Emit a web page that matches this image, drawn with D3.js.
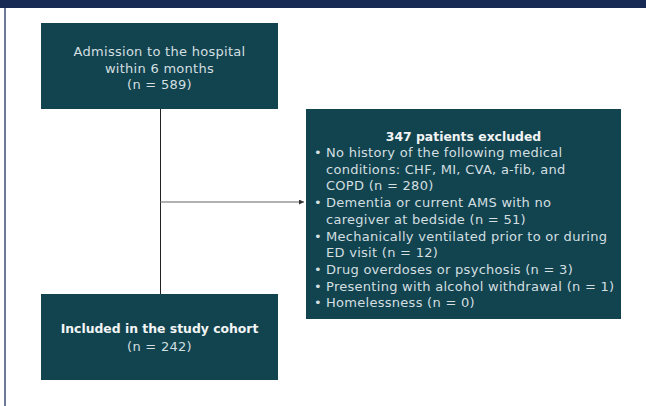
<!DOCTYPE html>
<html>
<head>
<meta charset="utf-8">
<script src="https://cdn.jsdelivr.net/npm/d3@7"></script>
<style>
  body { margin: 0; background: #fff; }
  svg { display: block; }
</style>
</head>
<body>
<svg width="646" height="406"></svg>
<script>
var svg = d3.select("svg"),
    width = 646,
    height = 406;

// ---- data ----
var topLines = ["Admission to the hospital", "within 6 months", "(n = 589)"];
var bottomTitle = "Included in the study cohort";
var bottomCount = "(n = 242)";
var excludedTitle = "347 patients excluded";
var excludedItems = [
    ["No history of the following medical", "conditions: CHF, MI, CVA, a-fib, and", "COPD (n = 280)"],
    ["Dementia or current AMS with no", "caregiver at bedside (n = 51)"],
    ["Mechanically ventilated prior to or during", "ED visit (n = 12)"],
    ["Drug overdoses or psychosis (n = 3)"],
    ["Presenting with alcohol withdrawal (n = 1)"],
    ["Homelessness (n = 0)"]
];

var boxFill = "#12444f",
    textFill = "#d3dfe0",
    font = "'DejaVu Sans', sans-serif",
    fontSize = 13,
    spacing = "0.28px";

// frame
svg.append("rect").attr("x", 0).attr("y", 0).attr("width", width).attr("height", 8).attr("fill", "#172a54");
svg.append("rect").attr("x", 4).attr("y", 8).attr("width", 2).attr("height", height - 8).attr("fill", "#6c7a98");

// boxes
var boxes = [
    {x: 41, y: 23, w: 237, h: 86},
    {x: 41, y: 294, w: 237, h: 86},
    {x: 306, y: 109, w: 315, h: 210}
];
svg.selectAll("rect.box").data(boxes).enter().append("rect")
    .attr("class", "box")
    .attr("x", d => d.x).attr("y", d => d.y)
    .attr("width", d => d.w).attr("height", d => d.h)
    .attr("fill", boxFill);

// connectors
svg.append("defs").append("marker")
    .attr("id", "arrow").attr("viewBox", "0 0 10 10")
    .attr("refX", 10).attr("refY", 5)
    .attr("markerWidth", 7).attr("markerHeight", 5)
    .attr("markerUnits", "userSpaceOnUse")
    .attr("orient", "auto")
    .append("path").attr("d", "M0,0L10,5L0,10z").attr("fill", "#333");

svg.append("line").attr("x1", 160.5).attr("x2", 160.5).attr("y1", 109).attr("y2", 294)
    .attr("stroke", "#222").attr("stroke-width", 1);
svg.append("line").attr("x1", 160).attr("x2", 304).attr("y1", 202).attr("y2", 202)
    .attr("stroke", "#666").attr("stroke-width", 1.2).attr("marker-end", "url(#arrow)");

function txt(sel) {
    return sel.attr("font-family", font).attr("font-size", fontSize)
        .attr("letter-spacing", spacing);
}
function bold(sel) {
    return sel.attr("font-family", font).attr("font-size", 12.4)
        .attr("font-weight", "bold").attr("fill", "#f2f5f5");
}

// top box text
svg.append("g").selectAll("text").data(topLines).enter().append("text")
    .call(txt)
    .attr("x", 159.5).attr("y", (d, i) => 56 + i * 16.5)
    .attr("text-anchor", "middle")
    .attr("fill", textFill)
    .text(d => d);

// bottom box text
svg.append("text").call(bold).attr("x", 159.5).attr("y", 333)
    .attr("text-anchor", "middle").text(bottomTitle);
svg.append("text").call(txt).attr("x", 159.5).attr("y", 351)
    .attr("text-anchor", "middle")
    .attr("fill", textFill).text(bottomCount);

// excluded box text
svg.append("text").call(bold).attr("x", 463.5).attr("y", 141)
    .attr("text-anchor", "middle").text(excludedTitle);

var lines = [];
excludedItems.forEach(function(item) {
    item.forEach(function(t, j) { lines.push({text: t, bullet: j === 0}); });
});
var lineH = 16.7;
var g = svg.append("g").attr("fill", textFill);
g.selectAll("text.line").data(lines).enter().append("text")
    .call(txt)
    .attr("class", "line")
    .attr("x", 326).attr("y", (d, i) => 157 + i * lineH)
    .text(d => d.text);
g.selectAll("text.bullet").data(lines.filter(d => d.bullet)).enter().append("text")
    .call(txt)
    .attr("class", "bullet")
    .attr("x", 314)
    .attr("y", d => 157 + lines.indexOf(d) * lineH)
    .text("\u2022");
</script>
</body>
</html>
